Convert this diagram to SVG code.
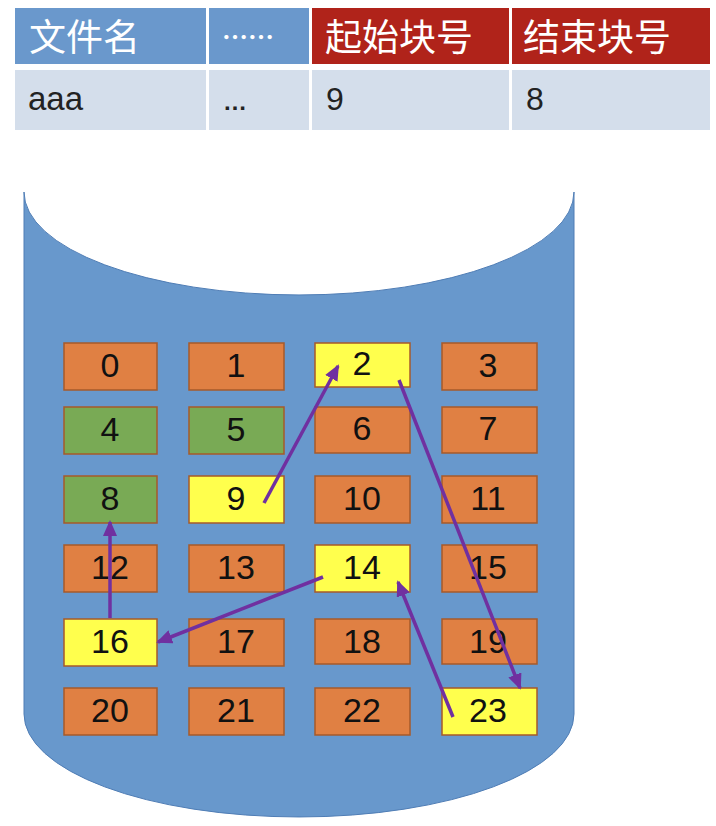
<svg xmlns="http://www.w3.org/2000/svg" width="716" height="826" viewBox="0 0 716 826">
<style>
.hb{fill:#6a98cc}
.hr{fill:#b0231a}
.dc{fill:#d4deeb}
.ht{fill:#fff;font-family:"Noto Sans CJK SC","Liberation Sans",sans-serif;font-size:37px}
.dt{fill:#222;font-family:"Liberation Sans","Noto Sans CJK SC",sans-serif;font-size:32px}
.blk rect{stroke:#a65a2a;stroke-width:1.5}
.o{fill:#e08043}
.g{fill:#79aa55}
.y{fill:#ffff4d}
.n{fill:#111;font-family:"Liberation Sans",sans-serif;font-size:34px;text-anchor:middle}
.c{stroke:#7030a0;stroke-width:3.5;fill:none;marker-end:url(#ah)}
</style>
<defs>
<marker id="ah" markerUnits="userSpaceOnUse" markerWidth="16" markerHeight="14" refX="14" refY="7" orient="auto">
<path d="M0,0 L16,7 L0,14 Z" fill="#7030a0"/>
</marker>
</defs>
<g id="table">
<rect class="hb" x="15" y="8" width="191" height="56"/>
<rect class="hb" x="209" y="8" width="100" height="56"/>
<rect class="hr" x="312" y="8" width="197" height="56"/>
<rect class="hr" x="512" y="8" width="198" height="56"/>
<rect class="dc" x="15" y="70" width="191" height="60"/>
<rect class="dc" x="209" y="70" width="100" height="60"/>
<rect class="dc" x="312" y="70" width="197" height="60"/>
<rect class="dc" x="512" y="70" width="198" height="60"/>
<text class="ht" x="29" y="51">文件名</text>
<text class="ht" x="222" y="47" style="font-size:26px;font-weight:bold">……</text>
<text class="ht" x="325" y="51">起始块号</text>
<text class="ht" x="523" y="51">结束块号</text>
<text class="dt" x="28" y="110" style="font-size:33px">aaa</text>
<text class="dt" x="223" y="110" style="font-size:24px;font-weight:bold">…</text>
<text class="dt" x="326" y="110">9</text>
<text class="dt" x="526" y="110">8</text>
</g>
<g id="disk">
<path d="M24,192 A275,103 0 0 0 574,192 L574,714 A275,103 0 0 1 24,714 Z" fill="#6898cc" stroke="#4f7db5" stroke-width="1"/>
</g>
<g id="blocks" class="blk">
<g id="b0"><rect class="o" x="64" y="343" width="93" height="47"/><text class="n" x="110" y="377">0</text></g>
<g id="b1"><rect class="o" x="189" y="343" width="95" height="47"/><text class="n" x="236" y="377">1</text></g>
<g id="b2"><rect class="y" x="315" y="343" width="95" height="44"/><text class="n" x="362" y="375">2</text></g>
<g id="b3"><rect class="o" x="442" y="343" width="95" height="47"/><text class="n" x="488" y="377">3</text></g>
<g id="b4"><rect class="g" x="64" y="407" width="93" height="47"/><text class="n" x="110" y="441">4</text></g>
<g id="b5"><rect class="g" x="189" y="407" width="95" height="47"/><text class="n" x="236" y="441">5</text></g>
<g id="b6"><rect class="o" x="315" y="407" width="95" height="46"/><text class="n" x="362" y="440">6</text></g>
<g id="b7"><rect class="o" x="442" y="407" width="95" height="46"/><text class="n" x="488" y="440">7</text></g>
<g id="b8"><rect class="g" x="64" y="476" width="93" height="47"/><text class="n" x="110" y="510">8</text></g>
<g id="b9"><rect class="y" x="189" y="476" width="95" height="47"/><text class="n" x="236" y="510">9</text></g>
<g id="b10"><rect class="o" x="315" y="476" width="95" height="47"/><text class="n" x="362" y="510">10</text></g>
<g id="b11"><rect class="o" x="442" y="476" width="95" height="47"/><text class="n" x="488" y="510">11</text></g>
<g id="b12"><rect class="o" x="64" y="545" width="93" height="47"/><text class="n" x="110" y="579">12</text></g>
<g id="b13"><rect class="o" x="189" y="545" width="95" height="47"/><text class="n" x="236" y="579">13</text></g>
<g id="b14"><rect class="y" x="315" y="545" width="95" height="47"/><text class="n" x="362" y="579">14</text></g>
<g id="b15"><rect class="o" x="442" y="545" width="95" height="47"/><text class="n" x="488" y="579">15</text></g>
<g id="b16"><rect class="y" x="64" y="619" width="93" height="47"/><text class="n" x="110" y="653">16</text></g>
<g id="b17"><rect class="o" x="189" y="619" width="95" height="47"/><text class="n" x="236" y="653">17</text></g>
<g id="b18"><rect class="o" x="315" y="619" width="95" height="45"/><text class="n" x="362" y="653">18</text></g>
<g id="b19"><rect class="o" x="442" y="619" width="95" height="45"/><text class="n" x="488" y="653">19</text></g>
<g id="b20"><rect class="o" x="64" y="688" width="93" height="47"/><text class="n" x="110" y="722">20</text></g>
<g id="b21"><rect class="o" x="189" y="688" width="95" height="47"/><text class="n" x="236" y="722">21</text></g>
<g id="b22"><rect class="o" x="315" y="688" width="95" height="47"/><text class="n" x="362" y="722">22</text></g>
<g id="b23"><rect class="y" x="442" y="688" width="95" height="47"/><text class="n" x="488" y="722">23</text></g>
</g>
<g id="connectors">
<line class="c" x1="264" y1="503" x2="338" y2="366"/>
<line class="c" x1="399" y1="380" x2="520" y2="688"/>
<line class="c" x1="453" y1="717" x2="398" y2="582"/>
<line class="c" x1="323" y1="577" x2="158" y2="642"/>
<line class="c" x1="110" y1="618" x2="110" y2="522"/>
</g>
</svg>
